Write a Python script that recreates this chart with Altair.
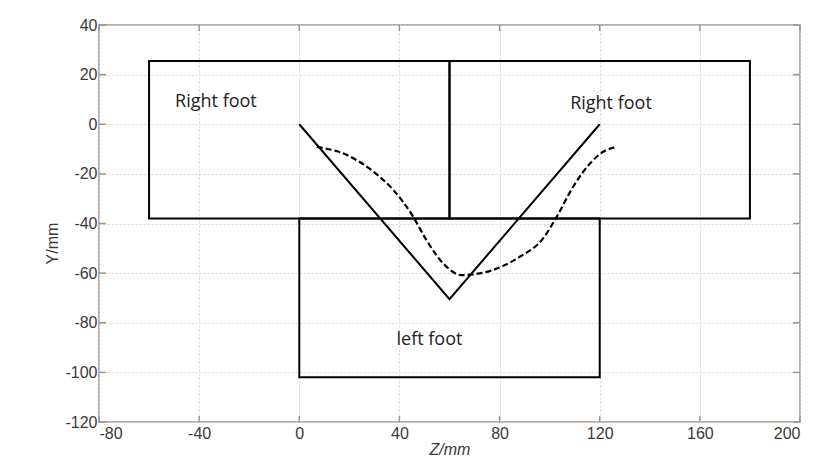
import altair as alt
import pandas as pd

# Foot boxes (Z range, Y range)
box_name = ["Right foot A", "Right foot B", "left foot"]
box_z0 = [-60, 60, 0]
box_z1 = [60, 180, 120]
box_y0 = [-38, -38, -102]
box_y1 = [25.5, 25.5, -38]

# Solid V trajectory
v_z = [0, 60, 120]
v_y = [0, -70.5, 0]

# Dashed curve
c_z = [7, 19, 29.6, 37.6, 45.5, 50.8, 57.5, 64.8, 74.8, 88.1, 97.4, 102.8, 109.4, 116.1, 121.4, 126.7]
c_y = [-9.1, -12.4, -19.1, -26.5, -37.3, -46.7, -56.1, -60.8, -59.5, -53.4, -46, -37.3, -25.2, -15.8, -11.1, -9.1]

# Text labels
lab_text = ["Right foot", "Right foot", "left foot"]
lab_z = [-33.3, 124.5, 52]
lab_y = [8.8, 8, -87]

x_ticks = [-80, -40, 0, 40, 80, 120, 160, 200]
y_ticks = [-120, -100, -80, -60, -40, -20, 0, 20, 40]

W, H = 701, 397

xs = alt.Scale(domain=[-80, 200], nice=False, zero=False)
ys = alt.Scale(domain=[-120, 40], nice=False, zero=False)

boxes = pd.DataFrame({"name": box_name, "z0": box_z0, "z1": box_z1, "y0": box_y0, "y1": box_y1})
vdf = pd.DataFrame({"z": v_z, "y": v_y})
cdf = pd.DataFrame({"z": c_z, "y": c_y})
ldf = pd.DataFrame({"t": lab_text, "z": lab_z, "y": lab_y})
xt = pd.DataFrame({"v": x_ticks})
yt = pd.DataFrame({"v": y_ticks})

xaxis = alt.Axis(values=x_ticks, title="Z/mm", grid=True, ticks=False, domain=False,
                 labelPadding=3, titlePadding=0, titleFontStyle="italic",
                 labelExpr="toString(datum.value)")
yaxis = alt.Axis(values=y_ticks, title="Y/mm", grid=True, ticks=False, domain=False,
                 labelPadding=2, titlePadding=4, titleY=218,
                 labelExpr="toString(datum.value)")

base = alt.Chart(boxes).mark_rect(fillOpacity=0, stroke="black", strokeWidth=2).encode(
    x=alt.X("z0:Q", scale=xs, axis=xaxis),
    x2="z1:Q",
    y=alt.Y("y0:Q", scale=ys, axis=yaxis),
    y2="y1:Q",
)

vline = alt.Chart(vdf).mark_line(color="black", strokeWidth=2).encode(
    x=alt.X("z:Q", scale=xs), y=alt.Y("y:Q", scale=ys))

curve = alt.Chart(cdf).mark_line(color="black", strokeWidth=2.2, strokeDash=[6, 3],
                                 interpolate="monotone").encode(
    x=alt.X("z:Q", scale=xs), y=alt.Y("y:Q", scale=ys))

texts = alt.Chart(ldf).mark_text(font="Open Sans", fontSize=18, color="#222", align="center",
                                 baseline="middle").encode(
    x=alt.X("z:Q", scale=xs), y=alt.Y("y:Q", scale=ys), text="t:N")

tick_col = "#9a948f"
xt_bot = alt.Chart(xt).mark_rule(color=tick_col, strokeWidth=1.5).encode(
    x=alt.X("v:Q", scale=xs), y=alt.value(H), y2=alt.value(H - 6))
xt_top = alt.Chart(xt).mark_rule(color=tick_col, strokeWidth=1.5).encode(
    x=alt.X("v:Q", scale=xs), y=alt.value(0), y2=alt.value(6))
yt_left = alt.Chart(yt).mark_rule(color=tick_col, strokeWidth=1.5).encode(
    y=alt.Y("v:Q", scale=ys), x=alt.value(0), x2=alt.value(7))
yt_right = alt.Chart(yt).mark_rule(color=tick_col, strokeWidth=1.5).encode(
    y=alt.Y("v:Q", scale=ys), x=alt.value(W), x2=alt.value(W - 7))

chart = alt.layer(base, xt_bot, xt_top, yt_left, yt_right, vline, curve, texts).properties(
    width=W, height=H,
    autosize=alt.AutoSizeParams(type="none"),
    padding={"left": 99, "top": 25, "right": 17, "bottom": 46},
    background="white",
).configure_view(
    stroke="#b5afaa", strokeWidth=2
).configure_axis(
    gridColor="#d8d4cf", gridDash=[2, 2], gridWidth=1,
    labelFont="Liberation Sans", labelFontSize=16, labelColor="#3a3a3a",
    titleFont="Liberation Sans", titleFontSize=16, titleColor="#3a3a3a", titleFontWeight="normal",
)

chart.save("out.html", embed_options={"renderer": "svg", "actions": False})
